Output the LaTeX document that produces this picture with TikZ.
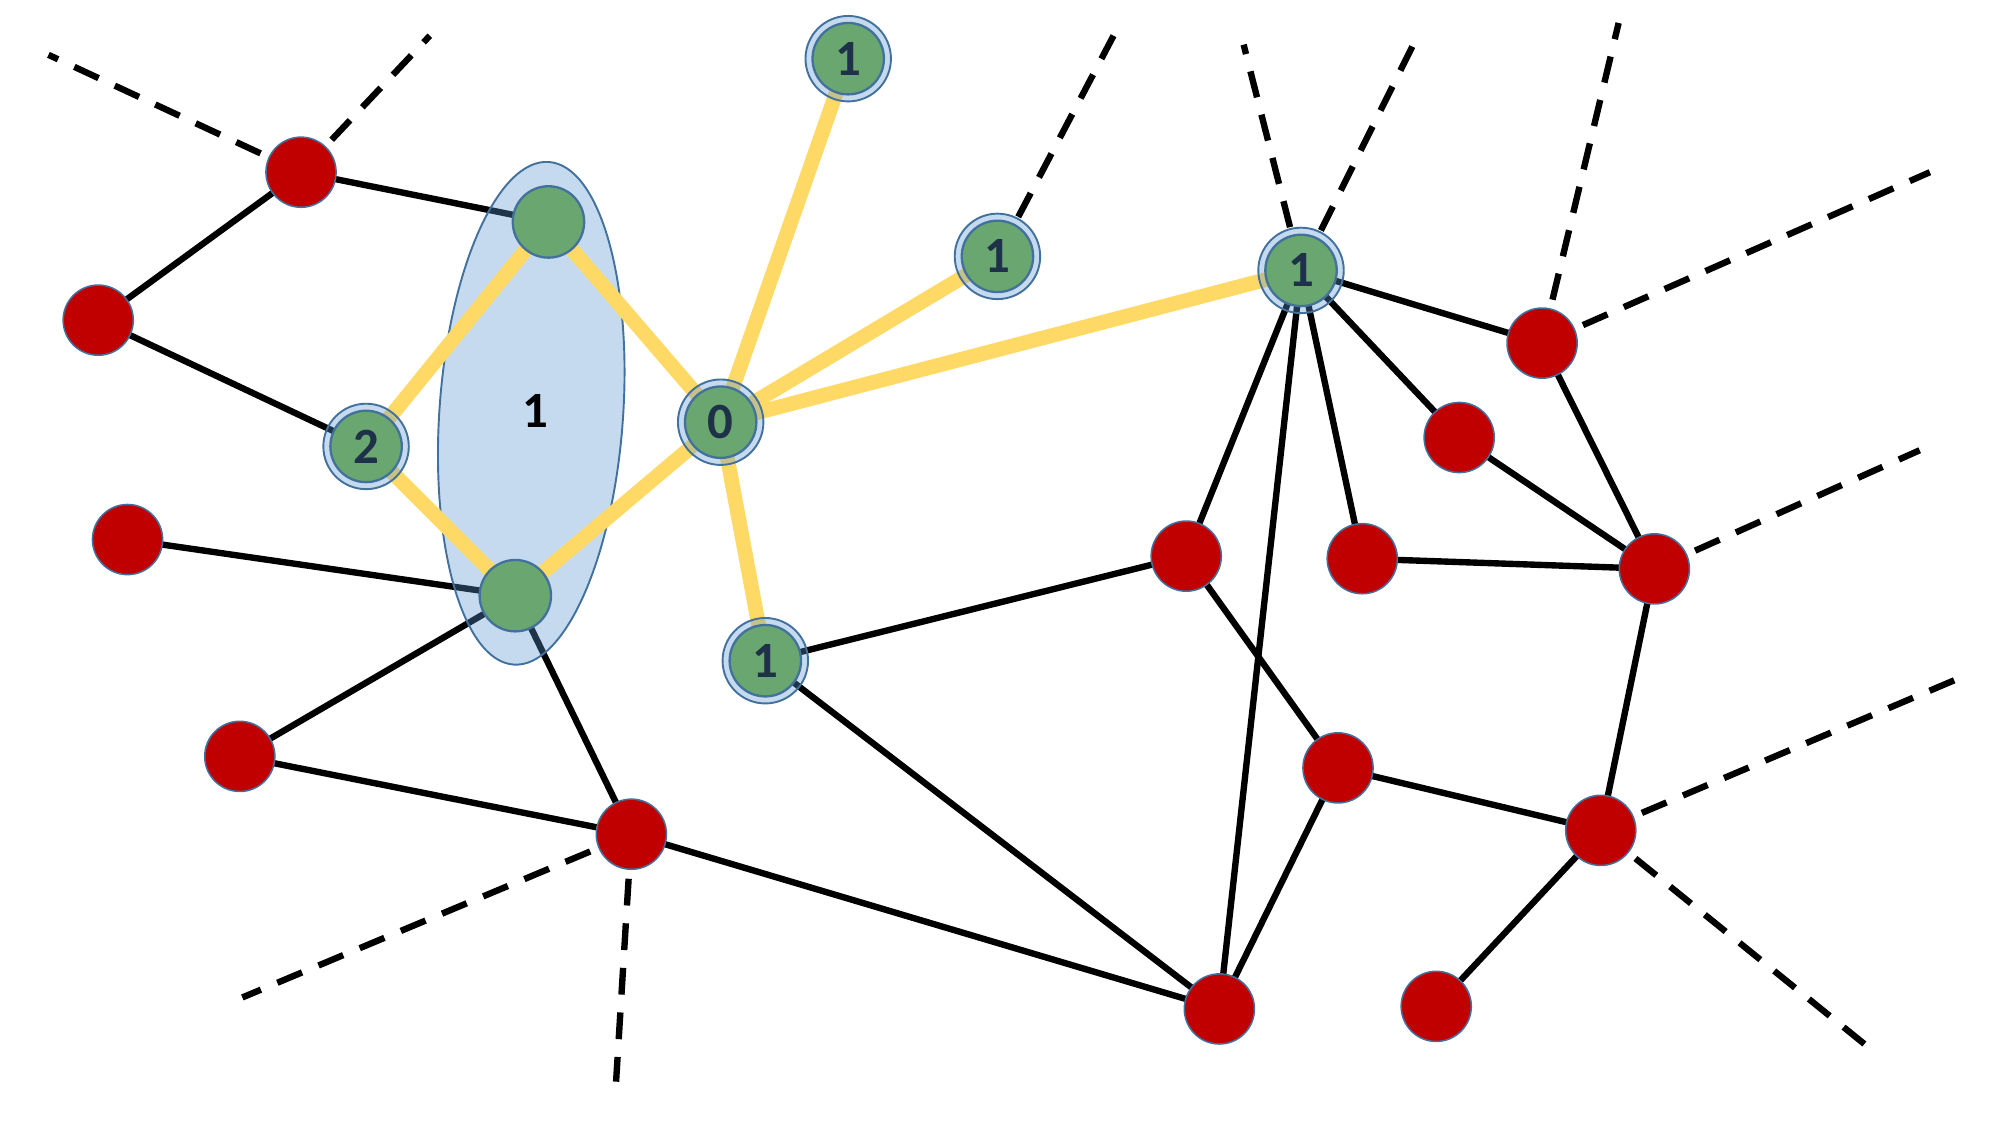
\documentclass[tikz,border=0pt]{standalone}
\usepackage{fontspec}
\setmainfont{Carlito}
\definecolor{redn}{HTML}{C00000}
\definecolor{bord}{HTML}{41719C}
\definecolor{greenn}{HTML}{6AA66F}
\definecolor{ringb}{HTML}{5B95D2}
\definecolor{yel}{HTML}{FFD966}
\definecolor{txt}{HTML}{1F3148}
\tikzset{
  rednode/.style={circle, fill=redn, draw=bord, line width=1.2bp, minimum size=55bp, inner sep=0pt},
  grnode/.style={circle, fill=greenn, draw=bord, line width=1.8bp, minimum size=56bp, inner sep=0pt,
    font=\bfseries\fontsize{40}{40}\selectfont, text=txt},
  ringnode/.style={circle, fill=ringb, fill opacity=0.35, draw=bord, draw opacity=1, line width=1.5bp, minimum size=67bp, inner sep=0pt},
  edge/.style={line width=5bp, black},
  dline/.style={line width=5bp, black, dash pattern=on 21bp off 14bp},
  yline/.style={line width=11.5bp, yel},
}
\begin{document}
\begin{tikzpicture}[x=1bp, y=-1bp]
\useasboundingbox (0,0) rectangle (1568,882);
% positions
\coordinate (A) at (236,135);
\coordinate (B) at (77,251);
\coordinate (C) at (100,423);
\coordinate (D) at (188,593);
\coordinate (E) at (495,654);
\coordinate (F) at (930,436);
\coordinate (G) at (1068,438);
\coordinate (H) at (1144,343);
\coordinate (I) at (1209,269);
\coordinate (J) at (1297,446);
\coordinate (K) at (1049,602);
\coordinate (L) at (1255,651);
\coordinate (M) at (956,791);
\coordinate (N) at (1126,789);
\coordinate (gt) at (430,174);
\coordinate (gb) at (404,467);
\coordinate (g2) at (287,350);
\coordinate (g0) at (565,331);
\coordinate (g1a) at (600,518);
\coordinate (g1b) at (665,46);
\coordinate (g1c) at (782,201);
\coordinate (g1d) at (1020,212);
% dashed free ends
\coordinate (dA1) at (38,43);
\coordinate (dA2) at (337,28);
\coordinate (dc) at (873,28);
\coordinate (dd1) at (975,35);
\coordinate (dd2) at (1108,35);
\coordinate (dI1) at (1269,18);
\coordinate (dI2) at (1513,135);
\coordinate (dJ) at (1505,353);
\coordinate (dL1) at (1540,530);
\coordinate (dL2) at (1466,822);
\coordinate (dE1) at (190,782);
\coordinate (dE2) at (483,848);
% dashed lines
\draw[dline] (A) -- (dA1);
\draw[dline] (A) -- (dA2);
\draw[dline] (g1c) -- (dc);
\draw[dline] (g1d) -- (dd1);
\draw[dline] (g1d) -- (dd2);
\draw[dline] (I) -- (dI1);
\draw[dline] (I) -- (dI2);
\draw[dline] (J) -- (dJ);
\draw[dline] (L) -- (dL1);
\draw[dline] (L) -- (dL2);
\draw[dline] (E) -- (dE1);
\draw[dline] (E) -- (dE2);
% solid edges
\draw[edge] (A) -- (B);
\draw[edge] (A) -- (gt);
\draw[edge] (B) -- (g2);
\draw[edge] (C) -- (gb);
\draw[edge] (D) -- (gb);
\draw[edge] (D) -- (E);
\draw[edge] (gb) -- (E);
\draw[edge] (E) -- (M);
\draw[edge] (g1a) -- (F);
\draw[edge] (g1a) -- (M);
\draw[edge] (F) -- (K);
\draw[edge] (K) -- (M);
\draw[edge] (M) -- (g1d);
\draw[edge] (g1d) -- (F);
\draw[edge] (g1d) -- (G);
\draw[edge] (g1d) -- (H);
\draw[edge] (g1d) -- (I);
\draw[edge] (H) -- (J);
\draw[edge] (G) -- (J);
\draw[edge] (I) -- (J);
\draw[edge] (J) -- (L);
\draw[edge] (K) -- (L);
\draw[edge] (L) -- (N);
% ellipse
\draw[fill=ringb, fill opacity=0.35, draw=bord, draw opacity=1, line width=1.5bp, rotate around={-4:(416.5,324)}]
  (416.5,324) ellipse [x radius=72bp, y radius=197.5bp];
\node[font=\bfseries\fontsize{40}{40}\selectfont, text=black] (lab) at (420,322) {1};
% yellow edges
\draw[yline] (gt) -- (g2);
\draw[yline] (gt) -- (g0);
\draw[yline] (g2) -- (gb);
\draw[yline] (gb) -- (g0);
\draw[yline] (g0) -- (g1b);
\draw[yline] (g0) -- (g1c);
\draw[yline] (g0) -- (g1d);
\draw[yline] (g0) -- (g1a);
% rings
\foreach \p in {g2,g0,g1a,g1b,g1c,g1d} { \node[ringnode] (ring-\p) at (\p) {}; }
% green nodes
\node[grnode] (ngt) at (gt) {};
\node[grnode] (ngb) at (gb) {};
\node[grnode] (ng2) at (g2) {2};
\node[grnode] (ng0) at (g0) {0};
\node[grnode] (ng1a) at (g1a) {1};
\node[grnode] (ng1b) at (g1b) {1};
\node[grnode] (ng1c) at (g1c) {1};
\node[grnode] (ng1d) at (g1d) {1};
% red nodes
\foreach \p in {A,B,C,D,E,F,G,H,I,J,K,L,M,N} { \node[rednode] (n\p) at (\p) {}; }
\end{tikzpicture}
\end{document}
